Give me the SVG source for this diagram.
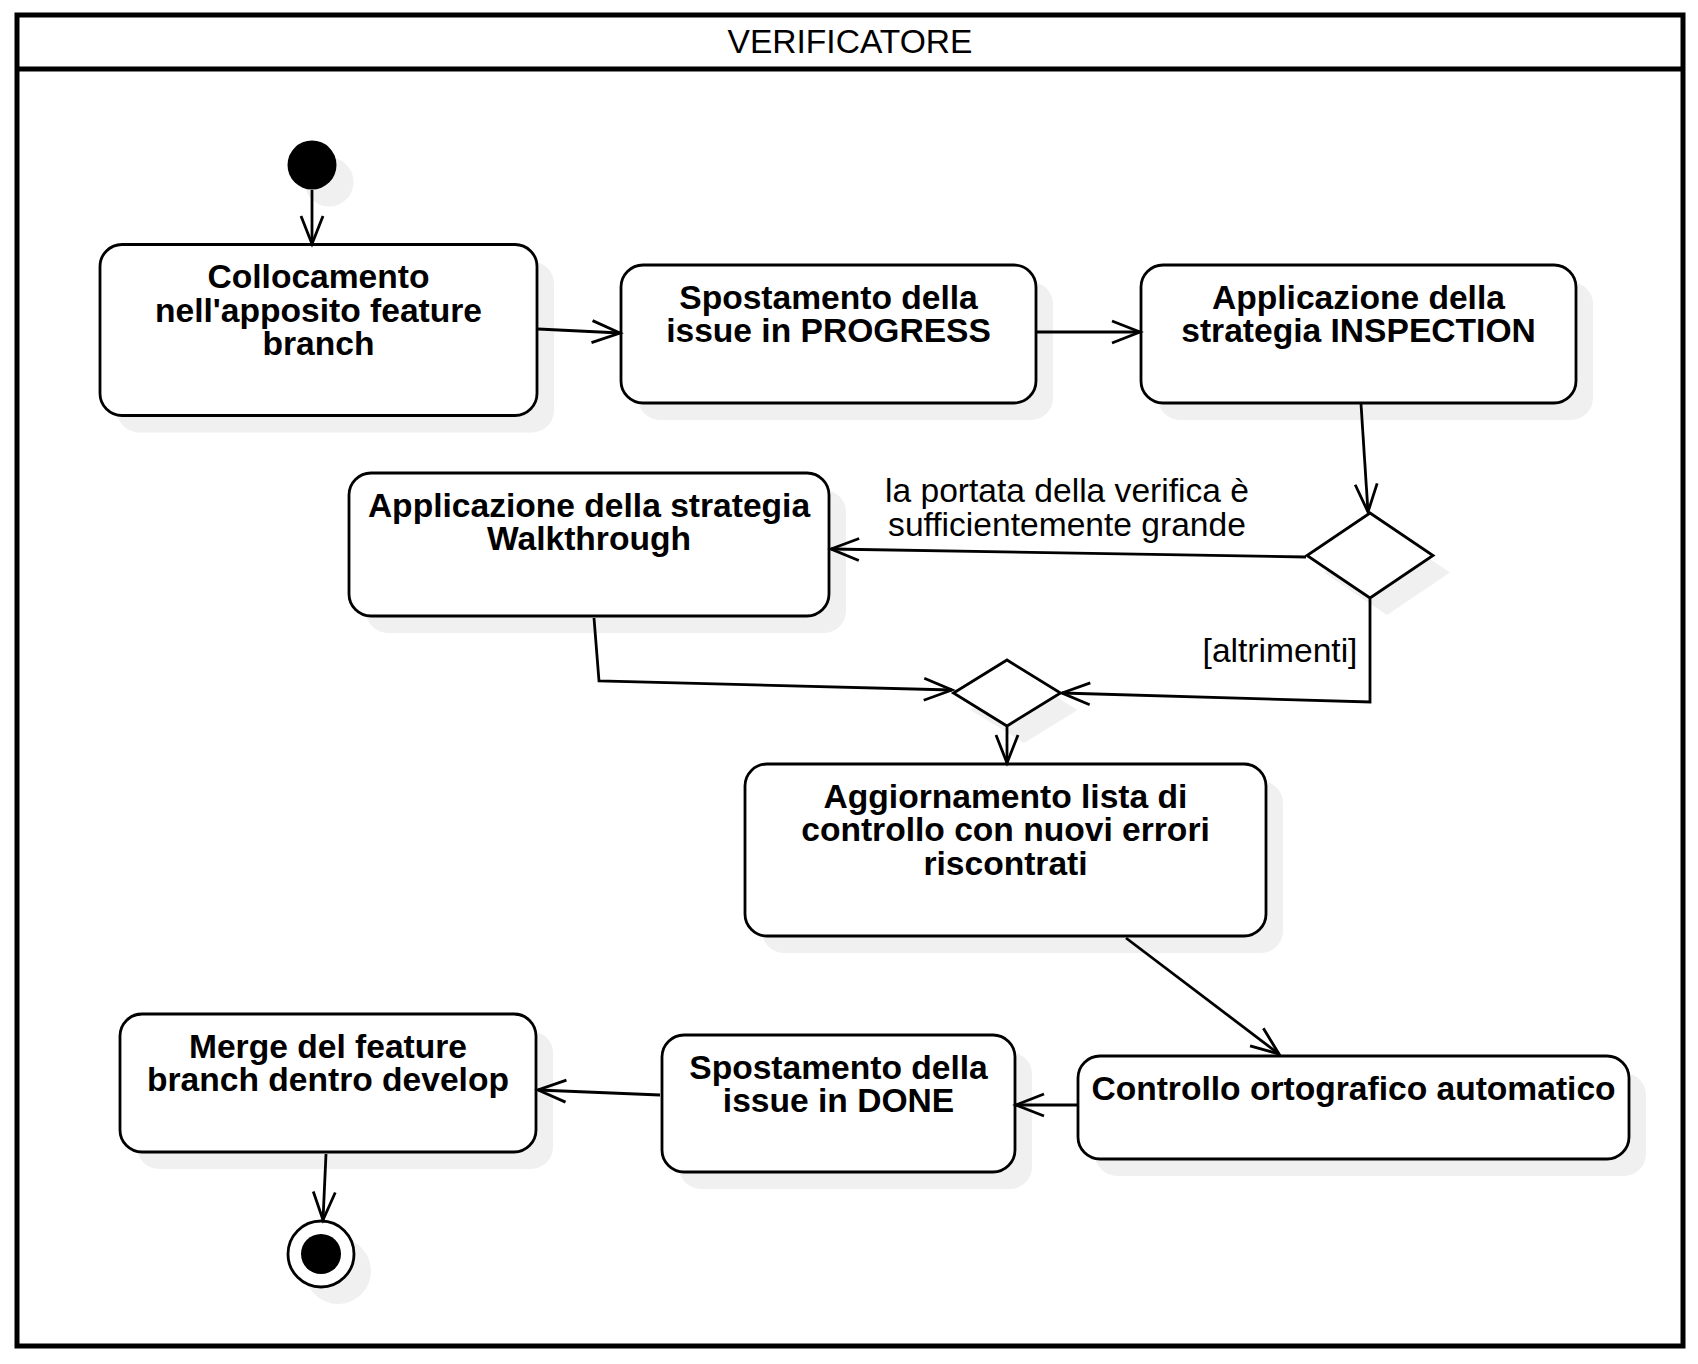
<svg xmlns="http://www.w3.org/2000/svg" width="1698" height="1364" viewBox="0 0 1698 1364">
<style>
.frame{fill:#fff;stroke:#000;stroke-width:5}
.node{fill:#fff;stroke:#000;stroke-width:2.8}
.sh{fill:#f0f0f0;stroke:none}
.edge{fill:none;stroke:#000;stroke-width:2.8}
.lbl{font-family:"Liberation Sans",Arial,sans-serif;font-size:33.6px;font-weight:bold;text-anchor:middle;fill:#000}
.txt{font-family:"Liberation Sans",Arial,sans-serif;font-size:33.6px;text-anchor:middle;fill:#000}
</style>
<defs>
<marker id="arr" markerUnits="userSpaceOnUse" viewBox="-32 -16 36 32" markerWidth="36" markerHeight="32" refX="0" refY="0" orient="auto">
<path d="M-28,-11 L0,0 L-28,11" fill="none" stroke="#000" stroke-width="2.8"/>
</marker>
</defs>
<rect width="1698" height="1364" fill="#fff"/>
<g id="pool">
<rect class="frame" x="17" y="15" width="1666" height="1331"/>
<line x1="17" y1="69" x2="1683" y2="69" stroke="#000" stroke-width="5"/>
<text class="txt" x="850" y="53">VERIFICATORE</text>
</g>
<g id="start">
<circle class="sh" cx="329" cy="182" r="24.5"/>
<circle cx="312" cy="165" r="24.5" fill="#000"/>
</g>
<g id="n1">
<rect class="sh" x="117" y="261.5" width="437" height="171" rx="22"/>
<rect class="node" x="100" y="244.5" width="437" height="171" rx="22"/>
<text class="lbl" x="318.5" y="288">Collocamento</text>
<text class="lbl" x="318.5" y="321.5">nell'apposito feature</text>
<text class="lbl" x="318.5" y="355">branch</text>
</g>
<g id="n2">
<rect class="sh" x="638" y="282" width="415" height="138" rx="22"/>
<rect class="node" x="621" y="265" width="415" height="138" rx="22"/>
<text class="lbl" x="828.5" y="308.5">Spostamento della</text>
<text class="lbl" x="828.5" y="342">issue in PROGRESS</text>
</g>
<g id="n3">
<rect class="sh" x="1158" y="282" width="435" height="138" rx="22"/>
<rect class="node" x="1141" y="265" width="435" height="138" rx="22"/>
<text class="lbl" x="1358.5" y="308.5">Applicazione della</text>
<text class="lbl" x="1358.5" y="342">strategia INSPECTION</text>
</g>
<g id="d1">
<polygon class="sh" points="1387,530 1450,572.5 1387,615 1324,572.5"/>
<polygon class="node" points="1370,513 1433,555.5 1370,598 1307,555.5"/>
</g>
<g id="n4">
<rect class="sh" x="366" y="490" width="480" height="143" rx="22"/>
<rect class="node" x="349" y="473" width="480" height="143" rx="22"/>
<text class="lbl" x="589" y="516.5">Applicazione della strategia</text>
<text class="lbl" x="589" y="550">Walkthrough</text>
</g>
<g id="d2">
<polygon class="sh" points="1024,677 1077.5,710 1024,743 970.5,710"/>
<polygon class="node" points="1007,660 1060.5,693 1007,726 953.5,693"/>
</g>
<g id="n5">
<rect class="sh" x="762" y="781" width="521" height="172" rx="22"/>
<rect class="node" x="745" y="764" width="521" height="172" rx="22"/>
<text class="lbl" x="1005.5" y="807.5">Aggiornamento lista di</text>
<text class="lbl" x="1005.5" y="841">controllo con nuovi errori</text>
<text class="lbl" x="1005.5" y="874.5">riscontrati</text>
</g>
<g id="n6">
<rect class="sh" x="1095" y="1073" width="551" height="103" rx="22"/>
<rect class="node" x="1078" y="1056" width="551" height="103" rx="22"/>
<text class="lbl" x="1353.5" y="1099.5">Controllo ortografico automatico</text>
</g>
<g id="n7">
<rect class="sh" x="679" y="1052" width="353" height="137" rx="22"/>
<rect class="node" x="662" y="1035" width="353" height="137" rx="22"/>
<text class="lbl" x="838.5" y="1078.5">Spostamento della</text>
<text class="lbl" x="838.5" y="1112">issue in DONE</text>
</g>
<g id="n8">
<rect class="sh" x="137" y="1031" width="416" height="138" rx="22"/>
<rect class="node" x="120" y="1014" width="416" height="138" rx="22"/>
<text class="lbl" x="328" y="1057.5">Merge del feature</text>
<text class="lbl" x="328" y="1091">branch dentro develop</text>
</g>
<g id="end">
<circle class="sh" cx="338" cy="1271" r="33"/>
<circle class="node" cx="321" cy="1254" r="33"/>
<circle cx="321" cy="1254" r="20" fill="#000"/>
</g>
<g id="connectors">
<path class="edge" d="M312,190 L312,244" marker-end="url(#arr)"/>
<path class="edge" d="M538,329 L620,333" marker-end="url(#arr)"/>
<path class="edge" d="M1037,332 L1140,332" marker-end="url(#arr)"/>
<path class="edge" d="M1361,404 L1368,512" marker-end="url(#arr)"/>
<path class="edge" d="M1306,557 L831,549" marker-end="url(#arr)"/>
<path class="edge" d="M1370,599 L1370,702 L1062,693" marker-end="url(#arr)"/>
<path class="edge" d="M594,618 L599,681 L952,690" marker-end="url(#arr)"/>
<path class="edge" d="M1007,727 L1007,763" marker-end="url(#arr)"/>
<path class="edge" d="M1126,938 L1279,1054" marker-end="url(#arr)"/>
<path class="edge" d="M1077,1105 L1016,1105" marker-end="url(#arr)"/>
<path class="edge" d="M660,1095 L538,1090" marker-end="url(#arr)"/>
<path class="edge" d="M326,1154 L323,1220" marker-end="url(#arr)"/>
<text class="txt" x="1067" y="502">la portata della verifica è</text>
<text class="txt" x="1067" y="535.5">sufficientemente grande</text>
<text class="txt" x="1280" y="662">[altrimenti]</text>
</g>
</svg>
